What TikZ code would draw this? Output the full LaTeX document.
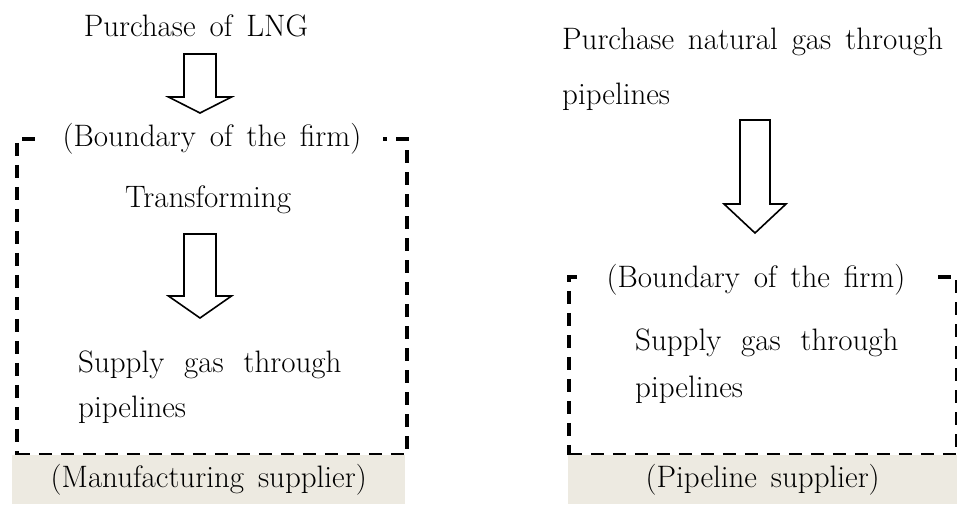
\documentclass[tikz,border=0pt]{standalone}
\usepackage{fontspec}
\setmainfont{Latin Modern Roman}
\definecolor{tagfill}{HTML}{EDEAE1}
% body text: large size with wide interword spaces
\newcommand\diagtext{\fontsize{31}{36}\selectfont\spaceskip=0.45em plus 0.1em\relax}
\newcommand\diagwide{\fontsize{31}{36}\selectfont\spaceskip=0.64em plus 0.1em\relax}
\begin{document}
\begin{tikzpicture}[x=1pt,y=-1pt,
  txt/.style={font=\diagtext, inner sep=0pt},
  widetxt/.style={font=\diagwide, inner sep=0pt},
  firmbox/.style={draw=black, line width=3.8pt, dash pattern=on 13pt off 9pt,
                  inner sep=0pt, anchor=north west},
  firmtitle/.style={txt, fill=white, inner xsep=22pt, inner ysep=3pt, anchor=base},
  tagbox/.style={txt, fill=tagfill, anchor=north west},
  blockarrow/.style={draw=black, line width=1.6pt, fill=white, line join=miter}
]
\useasboundingbox (0,0) rectangle (957,504);

% ---- manufacturing supplier (left) ----
\node[txt, anchor=base] (lng) at (196,36) {Purchase of LNG};
\node[firmbox, minimum width=390pt, minimum height=316pt] (firmL) at (15,137) {};
\node[firmtitle] (titleL) at (212,146) {(Boundary of the firm)};
\node[txt, anchor=base] (trans) at (208,207) {Transforming};
\node[widetxt, anchor=base west] (supL1) at (78,372) {Supply gas through};
\node[txt, anchor=base west] (supL2) at (78,417) {pipelines};
\node[tagbox, minimum width=393pt, minimum height=49pt] (tagL) at (12,455) {(Manufacturing supplier)};

% block arrows of the left column
\coordinate (a1) at (200,54);
\draw[blockarrow] (a1) ++(-16,0) -- ++(0,43) -- ++(-15.5,0) -- ++(31.5,16)
  -- ++(31.5,-16) -- ++(-15.5,0) -- ++(0,-43) -- cycle;
\coordinate (a2) at (200,234);
\draw[blockarrow] (a2) ++(-16,0) -- ++(0,62) -- ++(-15.5,0) -- ++(31.5,22)
  -- ++(31.5,-22) -- ++(-15.5,0) -- ++(0,-62) -- cycle;

% ---- pipeline supplier (right) ----
\node[txt, anchor=base west] (pngA) at (562,49) {Purchase natural gas through};
\node[txt, anchor=base west] (pngB) at (562,104) {pipelines};
\node[firmbox, minimum width=388pt, minimum height=178pt] (firmR) at (567,275) {};
\node[firmtitle, inner xsep=28pt] (titleR) at (756,287) {(Boundary of the firm)};
\node[widetxt, anchor=base west] (supR1) at (635,350) {Supply gas through};
\node[txt, anchor=base west] (supR2) at (635,397) {pipelines};
\node[tagbox, minimum width=389pt, minimum height=49pt] (tagR) at (568,455) {(Pipeline supplier)};

\coordinate (a3) at (755,120);
\draw[blockarrow] (a3) ++(-15,0) -- ++(0,84) -- ++(-16,0) -- ++(31,29)
  -- ++(31,-29) -- ++(-16,0) -- ++(0,-84) -- cycle;
\end{tikzpicture}
\end{document}
